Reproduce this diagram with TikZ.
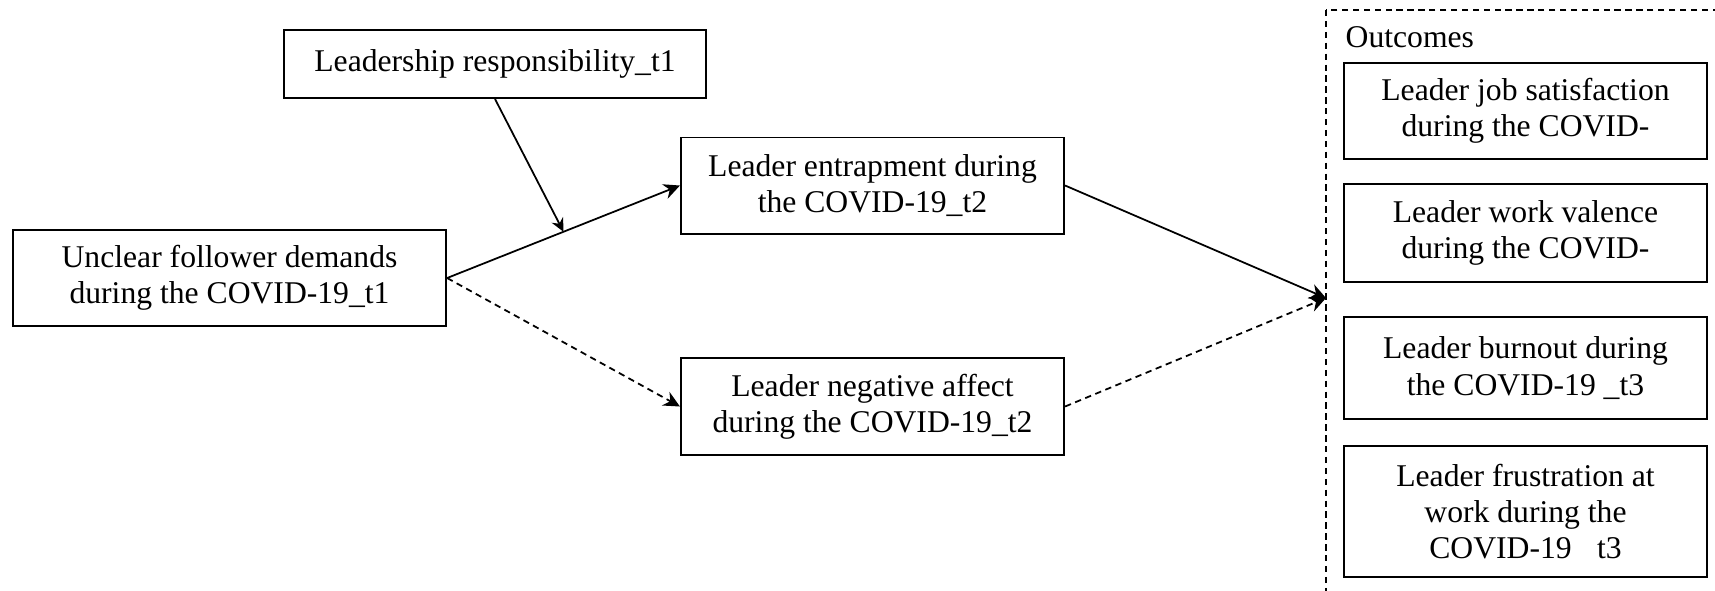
\documentclass[tikz,border=0pt]{standalone}
\usepackage{fontspec}
\setmainfont{Liberation Serif}
\usetikzlibrary{arrows.meta,calc}

\tikzset{
  box/.style={draw, line width=0.55pt, align=center, inner sep=0pt,
    font=\fontsize{9}{10.35}\selectfont},
  arr/.style={line width=0.5pt, -{Stealth[length=4.6pt,width=4.4pt]}},
  dasharr/.style={arr, dash pattern=on 1.8pt off 1.3pt},
  frame/.style={line width=0.5pt, dash pattern=on 1.8pt off 1.3pt}
}

\begin{document}
\begin{tikzpicture}[x=0.01cm,y=-0.01cm]
  \useasboundingbox (0,0) rectangle (1715,590);
  \clip (0,0) rectangle (1715,590);

  %%%%% predictors and mediators %%%%%
  \node[box, minimum width=4.22cm, minimum height=0.68cm] (lead) at (495,64)
    {Leadership responsibility\_t1};
  \node[box, minimum width=4.33cm, minimum height=0.96cm] (unclear) at (229.5,278)
    {Unclear follower demands\\during the COVID-19\_t1};
  \node[box, minimum width=3.83cm, minimum height=0.96cm] (entrap) at (872.5,185.5)
    {Leader entrapment during\\the COVID-19\_t2};
  \node[box, minimum width=3.83cm, minimum height=0.97cm] (negaff) at (872.5,406.5)
    {Leader negative affect\\during the COVID-19\_t2};

  %%%%% outcomes %%%%%
  \draw[frame] (1326,10) rectangle (1760,650);
  \node[anchor=base west, inner sep=0pt, font=\fontsize{9}{10.35}\selectfont] (outlabel) at (1345,47) {Outcomes};
  \coordinate (tgt) at (1326,298);

  \node[box, minimum width=3.63cm, minimum height=0.96cm] (jobsat) at (1525.5,111)
    {Leader job satisfaction\\during the COVID-};
  \node[box, minimum width=3.63cm, minimum height=0.98cm] (valence) at (1525.5,233)
    {Leader work valence\\during the COVID-};
  \node[box, minimum width=3.63cm, minimum height=1.02cm] (burnout) at (1525.5,368)
    {Leader burnout during\\the COVID-19 \_t3};
  \node[box, minimum width=3.63cm, minimum height=1.31cm] (frustr) at (1525.5,511.5)
    {Leader frustration at\\work during the\\COVID-19\hspace{0.8em}t3};

  %%%%% paths %%%%%
  \draw[arr] (unclear.east) -- (entrap.west);
  \draw[dasharr] (unclear.east) -- (negaff.west);
  \draw[arr, -{Stealth[length=3.8pt,width=3.6pt]}] (lead.south) -- ($(unclear.east)!0.5!(entrap.west)$);
  \draw[arr] (entrap.east) -- (tgt);
  \draw[dasharr] (negaff.east) -- (tgt);
\end{tikzpicture}
\end{document}
